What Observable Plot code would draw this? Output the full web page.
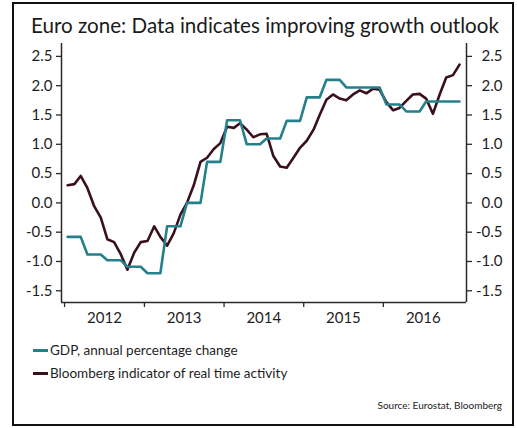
<!DOCTYPE html>
<html><head><meta charset="utf-8">
<script src="https://cdn.jsdelivr.net/npm/d3@7"></script>
<script src="https://cdn.jsdelivr.net/npm/@observablehq/plot@0.6"></script>
<style>
html,body{margin:0;padding:0;background:#fff}
body{width:517px;height:428px;position:relative;overflow:hidden;font-family:Lato,sans-serif;color:#1e1e1e}
#frame{position:absolute;left:12px;top:2px;width:498px;height:420px;border:2px solid #111;box-sizing:content-box}
#title{position:absolute;left:31px;top:15px;font-size:20.6px;line-height:1;white-space:nowrap;color:#1a1a1a}
#chart{position:absolute;left:0;top:0}
.leg{position:absolute;left:33px;font-size:13.5px;line-height:1;white-space:nowrap;display:flex;align-items:center}
.sw{display:inline-block;width:15px;height:3px;margin-right:2px}
#source{position:absolute;right:15px;top:399px;font-size:10px;white-space:nowrap;color:#222}
</style></head>
<body>
<div id="frame"></div>
<div id="title">Euro zone: Data indicates improving growth outlook</div>
<div id="chart"></div>
<div id="legend"></div>
<div id="source">Source: Eurostat, Bloomberg</div>
<script>
// ---- data ----
const seriesNames = ["GDP, annual percentage change", "Bloomberg indicator of real time activity"];
const seriesColors = ["#24808a", "#3a1020"];
const yearLabels = [2012, 2013, 2014, 2015, 2016];
const yTicks = [-1.5, -1.0, -0.5, 0.0, 0.5, 1.0, 1.5, 2.0, 2.5];
// monthly, Jan 2012 .. Dec 2016
const gdp = [
  -0.58,-0.58,-0.58, -0.88,-0.88,-0.88, -0.98,-0.98,-0.98, -1.09,-1.09,-1.09,
  -1.20,-1.20,-1.20, -0.40,-0.40,-0.40, 0.00,0.00,0.00, 0.70,0.70,0.70,
  1.41,1.41,1.41, 1.00,1.00,1.00, 1.10,1.10,1.10, 1.40,1.40,1.40,
  1.80,1.80,1.80, 2.10,2.10,2.10, 1.97,1.97,1.97, 1.97,1.97,1.97,
  1.68,1.68,1.68, 1.56,1.56,1.56, 1.73,1.73,1.73, 1.73,1.73,1.73
];
const bloomberg = [
  0.30,0.32,0.46,0.25,-0.05,-0.25,-0.62,-0.67,-0.88,-1.14,
  -0.85,-0.67,-0.65,-0.40,-0.58,-0.73,-0.52,-0.20,0.00,0.30,
  0.70,0.77,0.92,1.02,1.30,1.28,1.36,1.25,1.12,1.17,
  1.18,0.80,0.62,0.60,0.77,0.94,1.06,1.25,1.50,1.76,
  1.85,1.78,1.75,1.85,1.92,1.87,1.95,1.93,1.72,1.58,
  1.62,1.74,1.85,1.86,1.78,1.52,1.85,2.14,2.18,2.36
];

const months = d3.utcMonths(new Date(Date.UTC(2012,0,1)), new Date(Date.UTC(2017,0,1)));
const mid = m => new Date(Date.UTC(m.getUTCFullYear(), m.getUTCMonth(), 15));
const rows = months.map((m, i) => ({date: mid(m), value: gdp[i], series: seriesNames[0]}));
const rowsB = months.map((m, i) => ({date: mid(m), value: bloomberg[i], series: seriesNames[1]}));

const xDomain = [new Date(Date.UTC(2011,11,18)), new Date(Date.UTC(2017,0,16))];
const yDomain = [-1.70, 2.72];
const yearStarts = yearLabels.map(y => new Date(Date.UTC(y,0,1)));
const yearMids = yearLabels.map(y => new Date(Date.UTC(y,6,2)));
const fmt = d => d.toFixed(1);
const axisColor = "#2a2a2a";

const chart = Plot.plot({
  width: 517, height: 330,
  marginLeft: 61, marginRight: 51, marginTop: 43, marginBottom: 28,
  style: {fontFamily: "Lato, sans-serif", fontSize: "15px", color: "#1e1e1e", background: "transparent"},
  x: {type: "utc", domain: xDomain, label: null},
  y: {domain: yDomain, label: null},
  marks: [
    Plot.axisX({ticks: yearStarts, tickSize: 5, tickFormat: () => "", label: null, stroke: axisColor, strokeWidth: 1.3}),
    Plot.axisX({ticks: yearMids, tickSize: 0, tickPadding: 10, label: null, tickFormat: d => String(d.getUTCFullYear())}),
    Plot.axisY({anchor: "left", ticks: yTicks, tickSize: 5, tickPadding: 4, label: null, tickFormat: fmt, stroke: axisColor, strokeWidth: 1.3}),
    Plot.axisY({anchor: "right", ticks: yTicks, tickSize: 5, tickPadding: 31, label: null, textAnchor: "end", tickFormat: fmt, stroke: axisColor, strokeWidth: 1.3}),
    Plot.ruleX(xDomain, {stroke: axisColor, strokeWidth: 1.5}),
    Plot.ruleY([yDomain[0]], {stroke: axisColor, strokeWidth: 1.5}),
    Plot.line(rowsB, {x: "date", y: "value", stroke: seriesColors[1], strokeWidth: 2.6}),
    Plot.line(rows, {x: "date", y: "value", stroke: seriesColors[0], strokeWidth: 2.6})
  ]
});
document.getElementById("chart").appendChild(chart);

const legend = document.getElementById("legend");
const legendTops = [344, 367];
seriesNames.forEach((name, i) => {
  const d = document.createElement("div");
  d.className = "leg";
  d.style.top = legendTops[i] + "px";
  d.innerHTML = `<span class="sw" style="background:${seriesColors[i]}"></span><span>${name}</span>`;
  legend.appendChild(d);
});
</script>
</body></html>
